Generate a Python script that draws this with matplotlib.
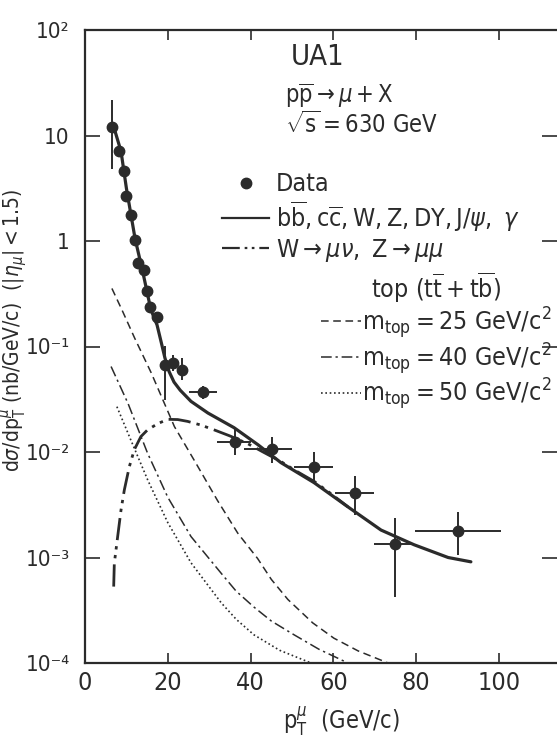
import numpy as np
import matplotlib
matplotlib.use('Agg')
import matplotlib.pyplot as plt
from matplotlib.lines import Line2D
from matplotlib import font_manager as fm

# ---- pick a condensed sans face if one is installed ----
_ttf = fm.fontManager.ttflist
_names = {f.name for f in _ttf}
if 'Liberation Sans Narrow' in _names:
    FONT, STRETCH = 'Liberation Sans Narrow', 'normal'
elif any(f.name == 'DejaVu Sans' and 'ondensed' in f.fname for f in _ttf):
    FONT, STRETCH = 'DejaVu Sans', 'condensed'
elif 'Roboto Condensed' in _names:
    FONT, STRETCH = 'Roboto Condensed', 'normal'
else:
    FONT, STRETCH = 'Roboto', 'normal'

plt.rcParams['font.family'] = [FONT, 'DejaVu Sans']
plt.rcParams['font.stretch'] = STRETCH
plt.rcParams['mathtext.fontset'] = 'custom'
_suffix = ':stretch=condensed' if STRETCH == 'condensed' else ''
plt.rcParams['mathtext.rm'] = FONT + _suffix
plt.rcParams['mathtext.it'] = FONT + ':italic' + _suffix
plt.rcParams['mathtext.bf'] = FONT + ':bold' + _suffix
plt.rcParams['mathtext.sf'] = FONT + _suffix

INK = '#2b2b2b'

# ---- data points (UA1) ----
pt = np.array([6.5, 8.2, 9.4, 9.9, 11.1, 12.1, 12.8, 14.3, 15.0, 15.7, 17.4,
               19.3, 21.3, 23.4, 28.5, 36.2, 45.2, 55.3, 65.2, 74.9, 90.1])
sigma = np.array([12.0, 7.1, 4.6, 2.67, 1.76, 1.02, 0.62, 0.53, 0.336, 0.237, 0.19,
                  0.067, 0.070, 0.060, 0.037, 0.0124, 0.0107, 0.0072, 0.0041, 0.00134, 0.00178])
pt_lo = np.array([6.5, 8.2, 9.4, 9.9, 11.1, 12.1, 12.8, 14.3, 15.0, 15.7, 17.4,
                  19.3, 21.3, 23.4, 25.0, 32.0, 38.5, 50.5, 60.3, 69.8, 79.6])
pt_hi = np.array([6.5, 8.2, 9.4, 9.9, 11.1, 12.1, 12.8, 14.3, 15.0, 15.7, 17.4,
                  19.3, 21.3, 23.4, 32.0, 40.0, 50.0, 60.0, 69.8, 79.5, 100.5])
sig_lo = np.array([4.8, 7.1, 4.6, 2.67, 1.76, 1.02, 0.62, 0.53, 0.336, 0.237, 0.19,
                   0.031, 0.058, 0.048, 0.032, 0.0094, 0.0079, 0.0050, 0.00253, 0.00042, 0.00106])
sig_hi = np.array([21.9, 7.1, 4.6, 2.67, 1.76, 1.02, 0.62, 0.53, 0.336, 0.237, 0.19,
                   0.102, 0.083, 0.078, 0.042, 0.0173, 0.0139, 0.0100, 0.00593, 0.00237, 0.0027])

# ---- total prediction: bb, cc, W, Z, DY, J/psi, gamma ----
tot_x = [6.8, 8.7, 10.0, 12.1, 14.0, 15.9, 17.4, 18.4, 19.3, 20.3, 21.5, 23.0, 25.6, 29.7,
         36.0, 41.8, 47.3, 55.3, 63.5, 71.5, 79.5, 87.7, 93.2]
tot_y = [12.6, 7.08, 3.16, 1.05, 0.50, 0.224, 0.16, 0.11, 0.078, 0.058, 0.046, 0.0385, 0.0302,
         0.0234, 0.0170, 0.0117, 0.00794, 0.00513, 0.00302, 0.00182, 0.00132, 0.00100, 0.00091]

# ---- W -> mu nu, Z -> mu mu ----
w_x = [6.93, 7.08, 7.89, 8.7, 9.5, 10.7, 11.9, 13.5, 15.1, 17.6, 20.0, 22.4, 24.8,
       28.0, 31.2, 35.0, 39.3, 43.0, 47.3, 51.0, 55.4, 59.5, 63.5]
w_y = [0.00053, 0.00088, 0.00158, 0.00282, 0.00437, 0.00724, 0.0105, 0.0140, 0.0162,
       0.0186, 0.0204, 0.0203, 0.0195, 0.0180, 0.0162, 0.0142, 0.0120, 0.0100, 0.00813,
       0.0066, 0.00525, 0.0040, 0.00302]

# ---- top contributions ----
t25_x = [6.5, 9.0, 12.0, 16.0, 21.6, 26.4, 32.0, 36.9, 41.7, 45.0, 49.0, 55.0, 60.1, 66.0, 73.2]
t25_y = [0.355, 0.219, 0.120, 0.0562, 0.0174, 0.00832, 0.00347, 0.00170, 0.000977,
         0.00062, 0.000400, 0.000240, 0.000172, 0.000130, 0.0001]
t40_x = [6.3, 10.4, 15.1, 20.0, 25.6, 32.9, 36.5, 40.8, 45.0, 50.5, 56.5, 63.5]
t40_y = [0.0646, 0.0288, 0.00977, 0.00372, 0.00158, 0.000708, 0.00048, 0.000339, 0.00025,
         0.000185, 0.000135, 0.0001]
t50_x = [7.7, 11.1, 15.2, 20.0, 25.6, 32.9, 36.5, 40.8, 47.0, 54.6]
t50_y = [0.0269, 0.0129, 0.00537, 0.00214, 0.000891, 0.000372, 0.000260, 0.000185,
         0.000132, 0.0001]

xticks = [0, 20, 40, 60, 80, 100]
yticks = [1e-4, 1e-3, 1e-2, 1e-1, 1, 10, 100]
ytick_labels = ['10⁻⁴', '10⁻³', '10⁻²', '10⁻¹', '1', '10', '10²']

fig = plt.figure(figsize=(5.57, 7.37), dpi=100)
ax = fig.add_axes([85 / 557, 1 - 663 / 737, 1 - 85 / 557, (663 - 30) / 737])
ax.set_yscale('log')
ax.set_xlim(0, 114.0)
ax.set_ylim(1e-4, 1e2)

dash_w = (8, 2.2, 1.2, 2.0, 1.2, 2.2)
dash_40 = (7, 2.5, 1.5, 2.5)
dash_25 = (5, 3)
dash_50 = (1, 1.6)

ax.plot(tot_x, tot_y, color=INK, lw=2.3, solid_capstyle='round', solid_joinstyle='round', zorder=4)
ax.plot(w_x, w_y, color=INK, lw=2.0, dashes=dash_w, zorder=3)
ax.plot(t25_x, t25_y, color=INK, lw=1.1, dashes=dash_25, zorder=3)
ax.plot(t40_x, t40_y, color=INK, lw=1.1, dashes=dash_40, zorder=3)
ax.plot(t50_x, t50_y, color=INK, lw=1.2, dashes=dash_50, zorder=3)

ax.errorbar(pt, sigma, xerr=[pt - pt_lo, pt_hi - pt], yerr=[sigma - sig_lo, sig_hi - sigma],
            fmt='o', ms=7.5, color=INK, ecolor=INK, elinewidth=1.4, capsize=0, zorder=5)

ax.set_xticks(xticks)
ax.set_xticklabels([str(v) for v in xticks])
ax.set_yticks(yticks)
ax.set_yticklabels(ytick_labels)
ax.minorticks_off()
ax.tick_params(axis='x', which='major', labelsize=18, colors=INK)
ax.tick_params(axis='y', which='major', labelsize=16, colors=INK)
ax.tick_params(axis='y', direction='in', length=11, width=1.2, pad=11, left=True, right=True)
ax.tick_params(axis='x', direction='in', length=7, width=1.2, pad=6, top=True, bottom=True)
for s in ['left', 'bottom', 'top']:
    ax.spines[s].set_color(INK)
    ax.spines[s].set_linewidth(1.6)
ax.spines['right'].set_visible(False)

ax.set_ylabel(r'$\mathrm{d}\sigma/\mathrm{dp}_{\mathrm{T}}^{\mu}$ (nb/GeV/c)  $(|\eta_{\mu}| < 1.5)$',
              fontsize=15, color=INK)
ax.yaxis.set_label_coords(-0.117, 0.526)
ax.set_xlabel(r'$\mathrm{p}_{\mathrm{T}}^{\mu}$  (GeV/c)', fontsize=17, color=INK)
ax.xaxis.set_label_coords(0.544, -0.066)

ax.text(0.492, 0.957, 'UA1', transform=ax.transAxes, fontsize=21, ha='center', va='center', color=INK)
ax.text(0.424, 0.897, r'$\mathrm{p\overline{p}} \rightarrow \mu + \mathrm{X}$', transform=ax.transAxes,
        fontsize=17, ha='left', va='center', color=INK)
ax.text(0.424, 0.850, r'$\sqrt{\mathrm{s}} = 630\ \mathrm{GeV}$', transform=ax.transAxes,
        fontsize=17, ha='left', va='center', color=INK)

h1 = [Line2D([], [], ls='none', marker='o', ms=7.5, color=INK),
      Line2D([], [], color=INK, lw=1.6),
      Line2D([], [], color=INK, lw=1.6, dashes=dash_w)]
l1 = ['Data',
      r'$\mathrm{b\overline{b}, c\overline{c}, W, Z, DY, J/}\psi,\ \gamma$',
      r'$\mathrm{W} \rightarrow \mu\nu,\ \mathrm{Z} \rightarrow \mu\mu$']
leg1 = ax.legend(h1, l1, loc='upper left', bbox_to_anchor=(0.29, 0.775), frameon=False,
                 fontsize=18, handlelength=1.9, handletextpad=0.25, labelspacing=0.12,
                 borderpad=0, borderaxespad=0)
for t in leg1.get_texts():
    t.set_color(INK)
ax.add_artist(leg1)

h2 = [Line2D([], [], color=INK, lw=1.1, dashes=dash_25),
      Line2D([], [], color=INK, lw=1.1, dashes=dash_40),
      Line2D([], [], color=INK, lw=1.2, dashes=dash_50)]
l2 = [r'$\mathrm{m_{top}} = 25\ \mathrm{GeV/c^{2}}$',
      r'$\mathrm{m_{top}} = 40\ \mathrm{GeV/c^{2}}$',
      r'$\mathrm{m_{top}} = 50\ \mathrm{GeV/c^{2}}$']
leg2 = ax.legend(h2, l2, loc='upper left', bbox_to_anchor=(0.50, 0.62), frameon=False,
                 fontsize=18, handlelength=1.6, handletextpad=0.05, labelspacing=0.0,
                 borderpad=0, borderaxespad=0,
                 title=r'$\mathrm{top\ (t\overline{t} + t\overline{b})}$', title_fontsize=18)
leg2.get_title().set_color(INK)
for t in leg2.get_texts():
    t.set_color(INK)

fig.savefig('out.png', dpi=100, facecolor='white')
